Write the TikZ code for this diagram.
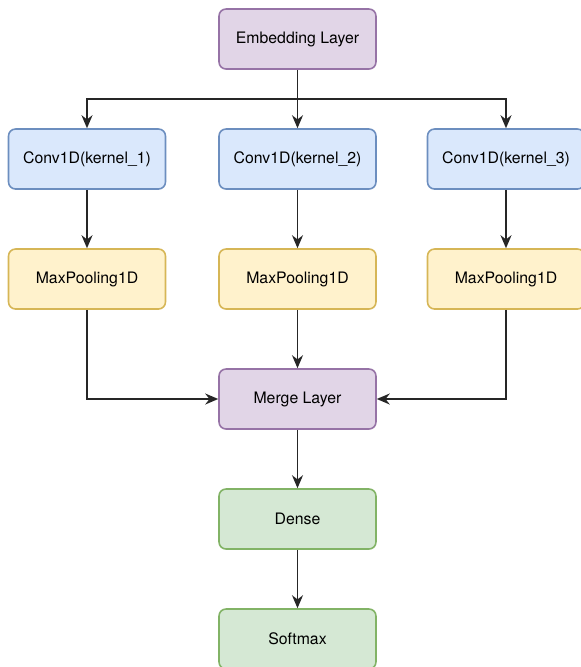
\documentclass[tikz,border=0pt]{standalone}
\usepackage{fontspec}
\setmainfont{TeX Gyre Heros}
\usepackage{tikz}
\usetikzlibrary{arrows.meta}
\definecolor{embfill}{HTML}{E1D5E7}
\definecolor{embline}{HTML}{9673A6}
\definecolor{convfill}{HTML}{DAE8FC}
\definecolor{convline}{HTML}{6C8EBF}
\definecolor{poolfill}{HTML}{FFF2CC}
\definecolor{poolline}{HTML}{D6B656}
\definecolor{densefill}{HTML}{D5E8D4}
\definecolor{denseline}{HTML}{82B366}

\tikzset{
  layer/.style={draw, rounded corners=0.14cm, line width=0.9pt,
    minimum width=3.14cm, minimum height=1.2cm, font=\fontsize{9}{10}\selectfont},
  purplebox/.style={layer, fill=embfill, draw=embline},
  bluebox/.style={layer, fill=convfill, draw=convline},
  yellowbox/.style={layer, fill=poolfill, draw=poolline},
  greenbox/.style={layer, fill=densefill, draw=denseline},
  flow/.style={-{Stealth[length=2.6mm,width=2.2mm]}, line width=1pt, black!85}
}

\begin{document}
\begin{tikzpicture}[x=0.02cm, y=-0.02cm]
  \useasboundingbox (0,0) rectangle (581,667);
  % layers
  \node[purplebox] (emb) at (297.5,39) {Embedding Layer};
  \node[bluebox] (conv1) at (87,159) {Conv1D(kernel\_1)};
  \node[bluebox] (conv2) at (297.5,159) {Conv1D(kernel\_2)};
  \node[bluebox] (conv3) at (506,159) {Conv1D(kernel\_3)};
  \node[yellowbox] (pool1) at (87,279) {MaxPooling1D};
  \node[yellowbox] (pool2) at (297.5,279) {MaxPooling1D};
  \node[yellowbox] (pool3) at (506,279) {MaxPooling1D};
  \node[purplebox] (merge) at (297.5,399) {Merge Layer};
  \node[greenbox] (dense) at (297.5,519) {Dense};
  \node[greenbox] (soft) at (297.5,639) {Softmax};
  \coordinate (split) at (297.5,99);
  % connectors
  \draw[flow] (emb) -- (conv2);
  \draw[flow] (split) -| (conv1);
  \draw[flow] (split) -| (conv3);
  \draw[flow] (conv1) -- (pool1);
  \draw[flow] (conv2) -- (pool2);
  \draw[flow] (conv3) -- (pool3);
  \draw[flow] (pool1) |- (merge);
  \draw[flow] (pool2) -- (merge);
  \draw[flow] (pool3) |- (merge);
  \draw[flow] (merge) -- (dense);
  \draw[flow] (dense) -- (soft);
\end{tikzpicture}
\end{document}
